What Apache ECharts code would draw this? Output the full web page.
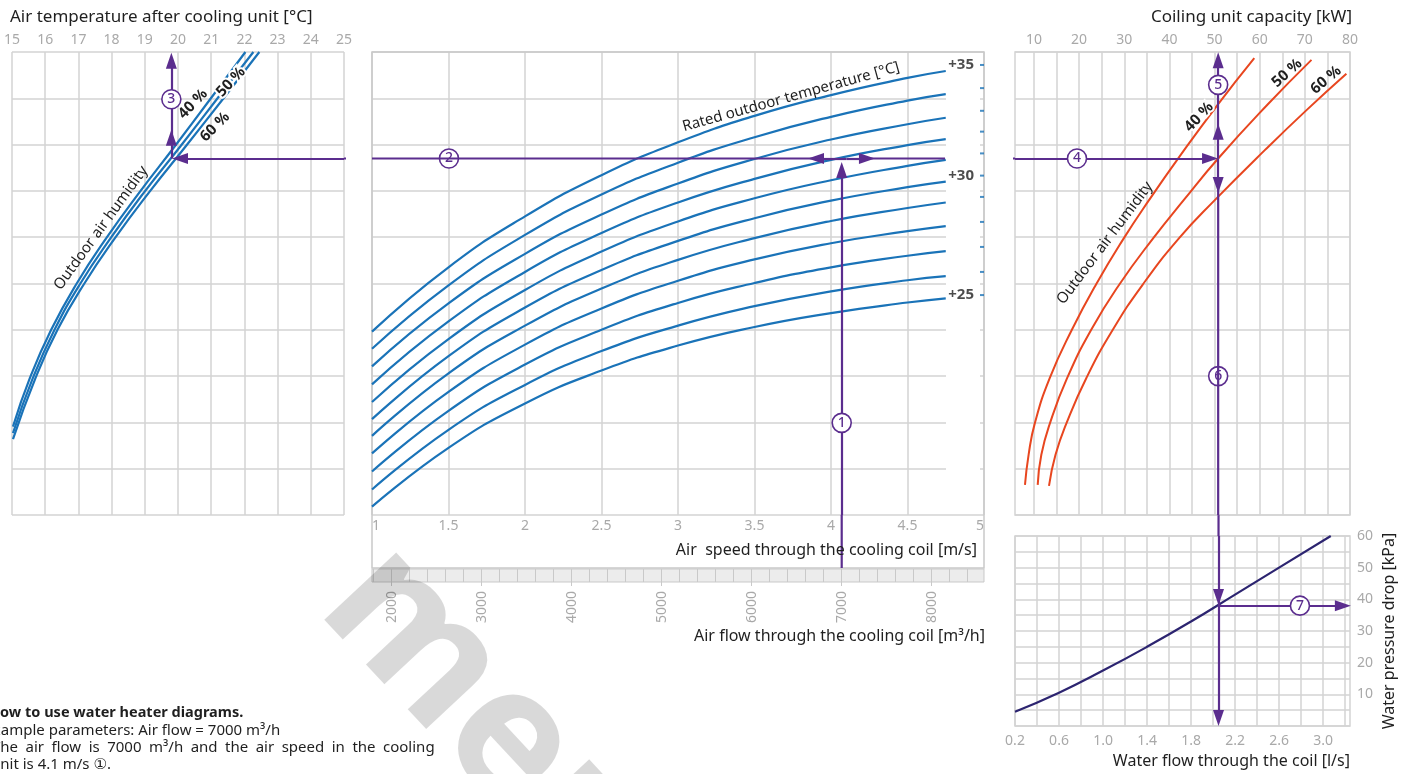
<!DOCTYPE html>
<html>
<head>
<meta charset="utf-8">
<script src="https://cdn.jsdelivr.net/npm/echarts@6/dist/echarts.min.js"></script>
<style>
  html, body { margin: 0; padding: 0; background: #fff; }
  #chart { width: 1413px; height: 774px; }
</style>
</head>
<body>
<div id="chart"></div>
<script>
// ---- Middle panel: air speed vs. rated outdoor temperature curves ----
const speedValues = [1, 1.5, 2, 2.5, 3, 3.5, 4, 4.5, 4.75];           // m/s
const outdoorTemps = [25, 26, 27, 28, 29, 30, 31, 32, 33, 34, 35];       // °C
const outdoor25 = [0.18, 1.45, 2.41, 3.12, 3.66, 4.06, 4.36, 4.59, 4.68];
const outdoor26 = [0.55, 1.84, 2.81, 3.54, 4.09, 4.51, 4.83, 5.07, 5.16];
const outdoor27 = [0.94, 2.25, 3.25, 4.00, 4.58, 5.01, 5.35, 5.60, 5.70];
const outdoor28 = [1.33, 2.66, 3.68, 4.46, 5.06, 5.52, 5.87, 6.13, 6.24];
const outdoor29 = [1.71, 3.06, 4.09, 4.89, 5.51, 5.98, 6.35, 6.63, 6.75];
const outdoor30 = [2.07, 3.43, 4.48, 5.29, 5.92, 6.41, 6.79, 7.08, 7.20];
const outdoor31 = [2.44, 3.80, 4.86, 5.69, 6.34, 6.84, 7.23, 7.54, 7.67];
const outdoor32 = [2.82, 4.18, 5.25, 6.09, 6.75, 7.26, 7.67, 7.99, 8.12];
const outdoor33 = [3.21, 4.57, 5.64, 6.49, 7.16, 7.69, 8.11, 8.44, 8.58];
const outdoor34 = [3.59, 4.96, 6.05, 6.92, 7.61, 8.16, 8.60, 8.95, 9.09];
const outdoor35 = [3.96, 5.35, 6.45, 7.34, 8.05, 8.62, 9.07, 9.44, 9.59];
// level of each rated temperature on the right edge (speed 5 m/s)
const edgeLevels = [4.75, 5.25, 5.79, 6.33, 6.87, 7.33, 7.81, 8.28, 8.73, 9.22, 9.72];

// ---- Left panel: supply air temperature [°C] vs. level, by outdoor humidity ----
const supply40 = [[15.03,1.91],[15.54,2.96],[16.18,4.00],[16.94,4.99],[17.84,5.98],[18.85,6.98],[19.91,7.97],[20.98,8.99],[22.03,10.0]];
const supply50 = [[15.03,1.77],[15.63,2.96],[16.28,4.00],[17.05,4.99],[17.97,5.98],[18.99,6.98],[20.08,7.97],[21.18,8.99],[22.27,10.0]];
const supply60 = [[15.03,1.64],[15.71,2.96],[16.37,4.00],[17.17,4.99],[18.10,5.98],[19.14,6.98],[20.24,7.97],[21.36,8.99],[22.45,10.0]];

// ---- Right panel: cooling capacity [kW] vs. level, by outdoor humidity ----
const capacity40 = [[8.01,0.65],[8.81,1.30],[10.21,1.99],[13.51,2.96],[18.40,4.00],[23.81,4.99],[29.92,5.98],[35.48,6.80],[42.15,7.73],[50.67,8.86],[58.80,9.87]];
const capacity50 = [[10.83,0.65],[11.63,1.30],[13.57,1.99],[17.36,2.96],[22.68,4.00],[28.99,4.99],[36.43,5.98],[43.16,6.80],[50.80,7.70],[61.70,8.86],[71.47,9.83]];
const capacity60 = [[13.33,0.63],[14.77,1.30],[17.23,1.99],[21.61,2.96],[27.46,4.00],[34.19,4.99],[42.15,5.98],[50.05,6.80],[61.13,7.88],[70.43,8.75],[79.20,9.53]];

// ---- Bottom right: water pressure drop [kPa] vs. water flow [l/s] ----
const waterFlow = [0.2, 0.6, 1.0, 1.4, 1.8, 2.2, 2.6, 3.07];
const pressureDrop = [4.5, 10.5, 17.5, 25, 33, 41.5, 50, 60];

// ---- Axis ticks ----
const capacityGridTicks = [10, 15, 20, 25, 30, 35, 40, 45, 50, 55, 60, 65, 70, 75, 80];
const capacityLabels = [10, 20, 30, 40, 50, 60, 70, 80];
const flowRulerTicks = [1800, 2000, 2200, 2400, 2600, 2800, 3000, 3200, 3400, 3600, 3800, 4000, 4200, 4400, 4600, 4800, 5000, 5200, 5400, 5600, 5800, 6000, 6200, 6400, 6600, 6800, 7000, 7200, 7400, 7600, 7800, 8000, 8200, 8400];
const flowLabels = [2000, 3000, 4000, 5000, 6000, 7000, 8000];
const waterFlowTicks = [0.2, 0.4, 0.6, 0.8, 1.0, 1.2, 1.4, 1.6, 1.8, 2.0, 2.2, 2.4, 2.6, 2.8, 3.0, 3.2];
const waterFlowLabels = [0.2, 0.6, 1.0, 1.4, 1.8, 2.2, 2.6, 3.0];
const pressureLabels = [10, 20, 30, 40, 50, 60];

// ---- Worked example ----
const exampleFlow = 7000;        // m³/h
const exampleSpeed = 4.1;        // m/s
const exampleLevel = 7.7;
const exampleSupplyTemp = 19.8;  // °C
const exampleCapacity = 50.8;    // kW
const exampleWaterFlow = 2.05;   // l/s
const examplePressure = 38;      // kPa

const FONT = "'Noto Sans', 'DejaVu Sans', sans-serif";
const INK = '#1f1f1f';
const GRAY = '#a9a9a9';
const GRID_C = '#d3d3d3';
const BLUE = '#1a73b8';
const RED = '#e8461f';
const NAVY = '#2c2470';
const PURPLE = '#5b2d8e';

const hidden = { axisLine: { show: false }, axisTick: { show: false }, axisLabel: { show: false }, splitLine: { show: false } };
const gridLine = { show: true, lineStyle: { color: GRID_C, width: 1.5 } };
const grayLabel = { color: GRAY, fontSize: 14, fontFamily: FONT };

const grids = [
  { left: 12, top: 52, width: 332, height: 463 },                 // 0 left
  { left: 372, top: 52, width: 612, height: 463 },                // 1 middle
  { left: 372, top: 52, width: 612, height: 463 },                // 2 middle, flow scale
  { left: 372, top: 569, width: 612, height: 13, show: true, backgroundColor: '#ececec', borderColor: '#c9c9c9', borderWidth: 1 }, // 3 ruler
  { left: 1015, top: 52, width: 335, height: 463, show: true, borderColor: GRID_C, borderWidth: 1.5 }, // 4 right
  { left: 1015, top: 536, width: 335, height: 190, show: true, borderColor: GRID_C, borderWidth: 1.5 } // 5 bottom right
].map(g => Object.assign({ outerBoundsMode: 'none', containLabel: false }, g));

const xAxes = [
  { type: 'value', gridIndex: 0, position: 'top', min: 15, max: 25, interval: 1,
    axisLine: { show: false }, axisTick: { show: false },
    axisLabel: Object.assign({ margin: 5 }, grayLabel), splitLine: gridLine },
  { type: 'value', gridIndex: 1, position: 'bottom', min: 1, max: 5, interval: 0.5,
    axisLine: { show: false }, axisTick: { show: false },
    axisLabel: Object.assign({ margin: 4, alignMinLabel: 'left', alignMaxLabel: 'right' }, grayLabel), splitLine: gridLine },
  Object.assign({ type: 'value', gridIndex: 2, min: 1781, max: 8581 }, hidden),
  { type: 'value', gridIndex: 3, position: 'bottom', min: 1781, max: 8581,
    axisLine: { show: false }, axisTick: { show: false, customValues: flowRulerTicks },
    axisLabel: { show: false }, splitLine: { show: true, lineStyle: { color: '#c9c9c9', width: 1 } } },
  { type: 'value', gridIndex: 3, position: 'bottom', min: 1781, max: 8581,
    axisLine: { show: false },
    axisTick: { show: true, customValues: flowLabels, length: 4, lineStyle: { color: '#c9c9c9' } },
    axisLabel: Object.assign({ customValues: flowLabels, rotate: 90, margin: 9, formatter: v => String(v) }, grayLabel),
    splitLine: { show: false } },
  { type: 'value', gridIndex: 4, position: 'top', min: 5.8, max: 80,
    axisLine: { show: false }, axisTick: { show: false, customValues: capacityGridTicks },
    axisLabel: Object.assign({ customValues: capacityLabels, margin: 5 }, grayLabel), splitLine: gridLine },
  { type: 'value', gridIndex: 5, position: 'bottom', min: 0.2, max: 3.245,
    axisLine: { show: false }, axisTick: { show: false, customValues: waterFlowTicks },
    axisLabel: Object.assign({ customValues: waterFlowLabels, margin: 8, formatter: v => v.toFixed(1) }, grayLabel),
    splitLine: gridLine }
];

const yAxes = [
  { type: 'value', gridIndex: 0, min: 0, max: 10, interval: 1, axisLine: { show: false }, axisTick: { show: false }, axisLabel: { show: false }, splitLine: gridLine },
  { type: 'value', gridIndex: 1, min: 0, max: 10, interval: 1, axisLine: { show: false }, axisTick: { show: false }, axisLabel: { show: false }, splitLine: gridLine },
  Object.assign({ type: 'value', gridIndex: 2, min: 0, max: 10 }, hidden),
  Object.assign({ type: 'value', gridIndex: 3, min: 0, max: 1 }, hidden),
  { type: 'value', gridIndex: 4, min: 0, max: 10, interval: 1, axisLine: { show: false }, axisTick: { show: false }, axisLabel: { show: false }, splitLine: gridLine },
  { type: 'value', gridIndex: 5, position: 'right', min: 0, max: 60, interval: 5,
    axisLine: { show: false }, axisTick: { show: false },
    axisLabel: Object.assign({ customValues: pressureLabels, margin: 7 }, grayLabel), splitLine: gridLine }
];

function curve(data, xi, yi, color, width) {
  return { type: 'line', xAxisIndex: xi, yAxisIndex: yi, data, showSymbol: false, symbol: 'none',
    smooth: 0.5, silent: true, animation: false, clip: false, z: 3,
    lineStyle: { color, width } };
}

// purple guide path: plain segments as short lines, arrowed segments as mark lines
function guide(xi, yi, plain, arrows) {
  const out = plain.map(s => ({
    type: 'line', xAxisIndex: xi, yAxisIndex: yi, data: [s[0], s[1]], symbol: 'none', showSymbol: false,
    silent: true, animation: false, clip: false, z: 5, lineStyle: { color: PURPLE, width: 2.2 }
  }));
  if (arrows.length) {
    out.push({ type: 'line', xAxisIndex: xi, yAxisIndex: yi, data: [], silent: true, animation: false, clip: false, z: 5,
      markLine: { silent: true, animation: false, precision: 4,
        lineStyle: { color: PURPLE, width: 2.2, type: 'solid' }, label: { show: false },
        emphasis: { disabled: true },
        data: arrows.map(s => [
          { coord: s[0], symbol: 'none' },
          { coord: s[1], symbol: 'triangle', symbolSize: [11, 16] }
        ]) } });
  }
  return out;
}

// numbered step markers
function steps(xi, yi, pts) {
  return { type: 'line', xAxisIndex: xi, yAxisIndex: yi, data: [], silent: true, animation: false, clip: false, z: 8,
    markPoint: { silent: true, animation: false, symbol: 'circle', symbolSize: 19,
      itemStyle: { color: '#fff', borderColor: PURPLE, borderWidth: 1.6 },
      label: { show: true, position: 'inside', color: PURPLE, fontSize: 14, fontFamily: FONT, fontWeight: 500, formatter: p => p.name },
      data: pts.map(p => ({ name: p[0], coord: p[1] })) } };
}

const middleCurves = [outdoor25, outdoor26, outdoor27, outdoor28, outdoor29, outdoor30, outdoor31, outdoor32, outdoor33, outdoor34, outdoor35];

let series = [];
middleCurves.forEach(vals => series.push(curve(speedValues.map((v, i) => [v, vals[i]]), 1, 1, BLUE, 2.2)));
series.push({
  type: 'scatter', xAxisIndex: 1, yAxisIndex: 1, silent: true, animation: false, clip: false, z: 6,
  symbol: 'rect', symbolSize: [4, 2], symbolOffset: [-2, 0], itemStyle: { color: BLUE },
  data: edgeLevels.map((y, i) => ({ name: String(outdoorTemps[i]), value: [5, y] })),
  label: { show: true, position: 'left', distance: 6, color: INK, fontSize: 15, fontWeight: 'bold', fontFamily: FONT,
    formatter: p => (Number(p.name) % 5 === 0 ? '+' + p.name : '') }
});
[supply40, supply50, supply60].forEach(d => series.push(curve(d, 0, 0, BLUE, 2.2)));
[capacity40, capacity50, capacity60].forEach(d => series.push(curve(d, 5, 4, RED, 2)));
series.push(curve(waterFlow.map((v, i) => [v, pressureDrop[i]]), 6, 5, NAVY, 2.2));

// ① air flow up to the outdoor temperature curve
series = series.concat(guide(2, 2,
  [[[exampleFlow, -1.145], [exampleFlow, 0]]],
  [[[exampleFlow, 0], [exampleFlow, 7.45]]]));
// ② across the speed diagram
series = series.concat(guide(1, 1,
  [[[1, exampleLevel], [3.902, exampleLevel]], [[4.235, exampleLevel], [4.745, exampleLevel]]],
  [[[exampleSpeed, exampleLevel], [3.902, exampleLevel]], [[exampleSpeed, exampleLevel], [4.235, exampleLevel]]]));
// ② / ③ supply temperature
series = series.concat(guide(0, 0,
  [[[25.84, exampleLevel], [25, exampleLevel]]],
  [[[25, exampleLevel], [20.06, exampleLevel]],
   [[exampleSupplyTemp, exampleLevel], [exampleSupplyTemp, 8.15]],
   [[exampleSupplyTemp, 8.15], [exampleSupplyTemp, 9.81]]]));
// ④ / ⑤ / ⑥ capacity
series = series.concat(guide(5, 4,
  [[[-1.73, exampleLevel], [5.8, exampleLevel]], [[exampleCapacity, 7.13], [exampleCapacity, 0]]],
  [[[5.8, exampleLevel], [49.0, exampleLevel]],
   [[exampleCapacity, exampleLevel], [exampleCapacity, 8.28]],
   [[exampleCapacity, 8.28], [exampleCapacity, 9.82]],
   [[exampleCapacity, exampleLevel], [exampleCapacity, 7.13]]]));
// ⑥ / ⑦ water side
series = series.concat(guide(6, 5,
  [[[exampleWaterFlow, 66.6], [exampleWaterFlow, 60]]],
  [[[exampleWaterFlow, 60], [exampleWaterFlow, 40.7]],
   [[exampleWaterFlow, 40.7], [exampleWaterFlow, 2.5]],
   [[exampleWaterFlow, examplePressure], [3.18, examplePressure]]]));

series.push(steps(2, 2, [['1', [exampleFlow, 1.99]]]));
series.push(steps(1, 1, [['2', [1.503, exampleLevel]]]));
series.push(steps(0, 0, [['3', [exampleSupplyTemp, 8.98]]]));
series.push(steps(5, 4, [['4', [19.53, exampleLevel]], ['5', [exampleCapacity, 9.29]], ['6', [exampleCapacity, 3.0]]]));
series.push(steps(6, 5, [['7', [2.79, examplePressure]]]));

function txt(text, x, y, o) {
  o = o || {};
  return { type: 'text', x, y, rotation: o.rot || 0, z: o.z || 20, silent: true,
    style: { text, fill: o.color || INK, fontSize: o.size || 15, fontWeight: o.weight || 'normal', fontFamily: FONT,
      align: o.align || 'left', verticalAlign: 'middle',
      stroke: o.halo ? '#fff' : null, lineWidth: o.halo ? 4 : 0 } };
}
const deg = Math.PI / 180;
const EN = '\u2002';

const graphics = [
  // outer frame of the middle panel including the speed scale
  { type: 'rect', z: 1, silent: true, shape: { x: 372, y: 52, width: 612, height: 516 },
    style: { fill: null, stroke: '#c9c9c9', lineWidth: 1.5 } },
  // blank column for the temperature labels
  { type: 'rect', z: 1, silent: true, shape: { x: 946, y: 53, width: 34, height: 461 }, style: { fill: '#fff' } },

  txt('Air temperature after cooling unit [°C]', 10, 17, { size: 17 }),
  txt('Coiling unit capacity [kW]', 1352, 17, { size: 17, align: 'right' }),
  txt('Air  speed through the cooling coil [m/s]', 977, 550, { size: 16, align: 'right' }),
  txt('Air flow through the cooling coil [m³/h]', 985, 636, { size: 16, align: 'right' }),
  txt('Water flow through the coil [l/s]', 1350, 761, { size: 16, align: 'right' }),
  txt('Water pressure drop [kPa]', 1389, 631, { size: 16, align: 'center', rot: 90 * deg }),

  txt('Rated outdoor temperature [°C]', 791, 97, { size: 15, align: 'center', rot: 15.6 * deg }),
  txt('Outdoor air humidity', 101, 228, { size: 15, align: 'center', rot: 54 * deg }),
  txt('Outdoor air humidity', 1105, 243, { size: 15, align: 'center', rot: 53 * deg }),

  txt('40 %', 193, 104, { size: 15, weight: 'bold', align: 'center', rot: 46 * deg }),
  txt('50 %', 231, 82, { size: 15, weight: 'bold', align: 'center', rot: 47 * deg, halo: true }),
  txt('60 %', 215, 127, { size: 15, weight: 'bold', align: 'center', rot: 45 * deg }),
  txt('40 %', 1199, 117, { size: 15, weight: 'bold', align: 'center', rot: 47 * deg, halo: true }),
  txt('50 %', 1287, 73, { size: 15, weight: 'bold', align: 'center', rot: 42 * deg }),
  txt('60 %', 1326, 80, { size: 15, weight: 'bold', align: 'center', rot: 40 * deg }),

  txt('How to use water heater diagrams.', -11, 713, { size: 14.5, weight: 'bold' }),
  txt('Example parameters: Air flow = 7000 m³/h', -15.5, 731, { size: 15 }),
  txt(['The', 'air', 'flow', 'is', '7000', 'm³/h', 'and', 'the', 'air', 'speed', 'in', 'the', 'cooling'].join(EN), -8, 748, { size: 15 }),
  txt('unit is 4.1 m/s ①.', -9, 765, { size: 15 }),

  // publisher mark
  { type: 'text', x: 488, y: 720, rotation: -47 * deg, z: 30, silent: true,
    style: { text: 'mep', fill: 'rgba(0,0,0,0.15)', fontSize: 180, fontWeight: 'bold', fontFamily: FONT, align: 'center', verticalAlign: 'middle' } }
];

const chart = echarts.init(document.getElementById('chart'), null, { renderer: 'canvas' });
chart.setOption({
  animation: false,
  backgroundColor: '#fff',
  textStyle: { fontFamily: FONT },
  grid: grids,
  xAxis: xAxes,
  yAxis: yAxes,
  series,
  graphic: graphics
});
</script>
</body>
</html>
